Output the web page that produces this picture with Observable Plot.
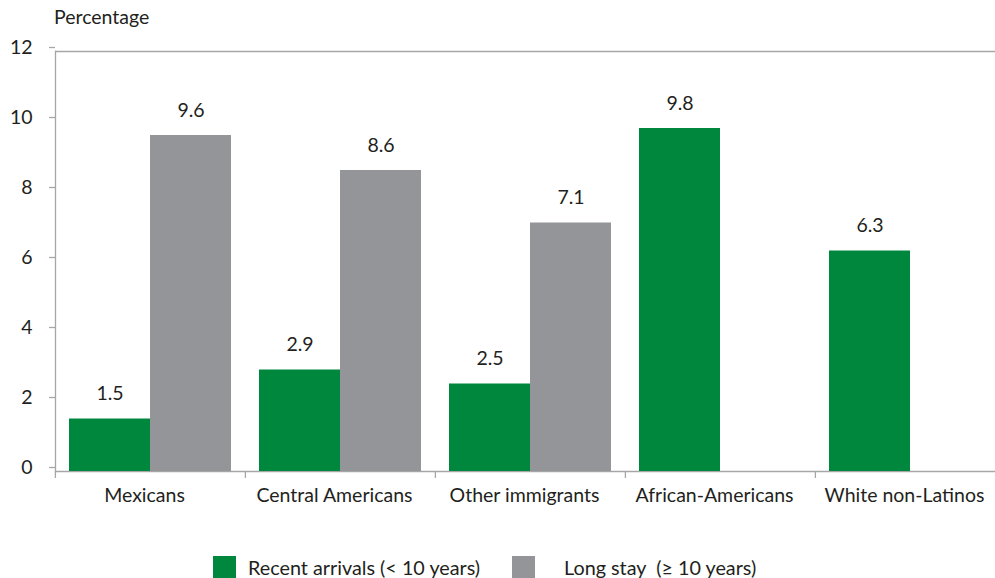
<!DOCTYPE html>
<html>
<head>
<meta charset="utf-8">
<script src="https://cdn.jsdelivr.net/npm/d3@7"></script>
<script src="https://cdn.jsdelivr.net/npm/@observablehq/plot@0.6"></script>
<style>
  html, body { margin: 0; padding: 0; background: #fff; }
  body { width: 995px; height: 578px; overflow: hidden; position: relative; font-family: Lato, "Open Sans", sans-serif; color: #231f20; }
  #chart { position: absolute; left: 0; top: 0; width: 1005px; }
  #chart svg { max-width: none !important; width: 1005px !important; height: 545px !important; }
  .ylab { position: absolute; left: 54px; top: 5px; font-size: 19.5px; }
  .legend { position: absolute; top: 556px; left: 0; width: 995px; height: 22px; font-size: 19.8px; }
  .legend .sw { position: absolute; top: 0; width: 23px; height: 22px; }
  .legend .lt { position: absolute; top: 0; line-height: 22px; white-space: pre; }
</style>
</head>
<body>
<div id="chart"></div>
<div class="ylab">Percentage</div>
<div class="legend" id="legend"></div>
<script>
const categories = ["Mexicans", "Central Americans", "Other immigrants", "African-Americans", "White non-Latinos"];
const seriesNames = ["Recent arrivals (< 10 years)", "Long stay  (≥ 10 years)"];
const recentArrivals = [1.5, 2.9, 2.5, 9.8, 6.3];
const longStay = [9.6, 8.6, 7.1, null, null];
const yTicks = [0, 2, 4, 6, 8, 10, 12];
const colors = ["#00873e", "#939598"];

const rows = [];
categories.forEach((c, i) => {
  if (recentArrivals[i] != null) rows.push({category: c, series: seriesNames[0], value: recentArrivals[i]});
  if (longStay[i] != null) rows.push({category: c, series: seriesNames[1], value: longStay[i]});
});

const W = 1005, ML = 54, MR = 0;
const step = (W - ML - MR) / categories.length;
const axisGray = "#a6a6a6";
const ink = "#231f20";
const fs = 19.5;

const chart = Plot.plot({
  width: W,
  height: 545,
  marginLeft: ML,
  marginRight: MR,
  marginTop: 51,
  marginBottom: 74,
  style: {fontFamily: "Lato, 'Open Sans', sans-serif", fontSize: fs + "px", color: ink, background: "transparent"},
  fx: {domain: categories, paddingInner: 0, paddingOuter: 0, label: null},
  x: {domain: seriesNames, paddingInner: 0, paddingOuter: 0.16, axis: null},
  y: {domain: [0, 12], label: null},
  color: {domain: seriesNames, range: colors},
  marks: [
    Plot.ruleY([0, 12], {stroke: axisGray, strokeWidth: 1.3}),
    Plot.frame({anchor: "left", facetAnchor: "left", stroke: axisGray, strokeWidth: 1.3}),
    Plot.axisY({ticks: yTicks, tickSize: 6, tickPadding: 17, stroke: axisGray, strokeWidth: 1.3, fill: ink, fontSize: fs, dy: -4, label: null, tickFormat: d => String(d)}),
    Plot.axisFx({anchor: "bottom", tickSize: 7, tickFormat: () => "", stroke: axisGray, strokeWidth: 1.3, dx: -step / 2, label: null}),
    Plot.axisFx({anchor: "bottom", tickSize: 0, tickPadding: 17, fill: ink, fontSize: fs, dx: -6, label: null}),
    Plot.barY(rows, {fx: "category", x: "series", y: "value", fill: "series"}),
    Plot.text(rows, {fx: "category", x: "series", y: "value", text: d => d.value.toFixed(1), dy: -25, fill: ink, fontSize: fs})
  ]
});
document.getElementById("chart").appendChild(chart);

const legend = document.getElementById("legend");
const legendPos = [[213, 248], [512, 564]];
seriesNames.forEach((s, i) => {
  const sw = document.createElement("div");
  sw.className = "sw";
  sw.style.left = legendPos[i][0] + "px";
  sw.style.background = colors[i];
  legend.appendChild(sw);
  const t = document.createElement("div");
  t.className = "lt";
  t.style.left = legendPos[i][1] + "px";
  t.textContent = s;
  legend.appendChild(t);
});
</script>
</body>
</html>
